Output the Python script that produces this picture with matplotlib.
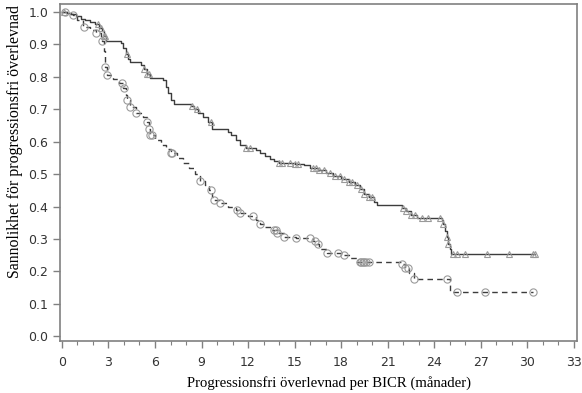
import numpy as np
import matplotlib
matplotlib.use("Agg")
import matplotlib.pyplot as plt

# Arm A (solid line, triangles)
time_a = [0, 0.3, 0.6, 0.9, 1.2, 1.5, 1.8, 2.1, 2.4, 2.55, 2.7, 2.85, 3.8, 3.95,
          4.1, 4.25, 4.4, 5.1, 5.3, 5.5, 5.7, 6.5, 6.7, 6.85, 7.0, 7.2, 8.3, 8.5,
          8.8, 9.1, 9.4, 9.7, 10.7, 10.9, 11.2, 11.5, 11.9, 12.5, 12.8, 13.1,
          13.4, 13.7, 14.0, 15.0, 15.6, 16.0, 16.5, 17.0, 17.5, 18.0, 18.5, 18.9,
          19.2, 19.5, 19.8, 20.1, 20.3, 21.9, 22.2, 22.5, 22.9, 24.5, 24.6, 24.7,
          24.8, 24.9, 25.0, 25.1]
surv_a = [1.0, 0.997, 0.993, 0.987, 0.98, 0.975, 0.97, 0.962, 0.95, 0.94, 0.925,
          0.912, 0.905, 0.89, 0.87, 0.855, 0.845, 0.838, 0.825, 0.81, 0.797, 0.79,
          0.77, 0.75, 0.73, 0.715, 0.71, 0.70, 0.69, 0.675, 0.66, 0.64, 0.63, 0.62,
          0.605, 0.59, 0.58, 0.575, 0.565, 0.555, 0.547, 0.54, 0.534, 0.532, 0.527,
          0.52, 0.512, 0.503, 0.493, 0.484, 0.475, 0.466, 0.455, 0.44, 0.43, 0.415,
          0.404, 0.395, 0.385, 0.375, 0.366, 0.36, 0.345, 0.325, 0.305, 0.285,
          0.268, 0.255]
cens_a = [0.1, 2.3, 2.5, 2.7, 2.8, 4.2, 5.3, 5.5, 5.6, 8.4, 8.7, 9.6, 11.9, 12.1,
          14.0, 14.2, 14.7, 15.0, 15.2, 16.2, 16.4, 16.6, 16.9, 17.3, 17.6, 17.9,
          18.2, 18.5, 18.7, 19.0, 19.3, 19.5, 19.8, 20.0, 22.0, 22.2, 22.5, 22.8,
          23.2, 23.6, 24.4, 24.6, 24.8, 24.9, 25.2, 25.5, 26.0, 27.4, 28.8, 30.4, 30.5]

# Arm B (dashed line, circles)
time_b = [0, 0.4, 0.7, 1.0, 1.35, 1.8, 2.2, 2.5, 2.6, 2.7, 2.75, 2.8, 2.9, 3.3,
          3.7, 3.95, 4.1, 4.2, 4.4, 4.8, 5.2, 5.5, 5.6, 5.7, 6.0, 6.4, 6.7, 7.0,
          7.4, 7.8, 8.2, 8.6, 8.9, 9.2, 9.5, 9.7, 9.8, 10.2, 10.7, 11.2, 11.5,
          12.0, 12.5, 12.8, 13.0, 13.5, 13.9, 14.3, 15.1, 16.2, 16.4, 16.6, 17.1,
          18.1, 18.6, 19.0, 21.9, 22.1, 22.4, 22.7, 25.0]
surv_b = [1.0, 0.995, 0.99, 0.975, 0.955, 0.945, 0.935, 0.92, 0.91, 0.88, 0.85,
          0.83, 0.805, 0.795, 0.78, 0.765, 0.745, 0.728, 0.707, 0.69, 0.675, 0.66,
          0.64, 0.62, 0.605, 0.59, 0.578, 0.565, 0.55, 0.535, 0.52, 0.50, 0.48,
          0.465, 0.45, 0.43, 0.42, 0.41, 0.40, 0.39, 0.38, 0.372, 0.36, 0.345,
          0.337, 0.328, 0.32, 0.306, 0.302, 0.295, 0.285, 0.27, 0.256, 0.25, 0.24,
          0.228, 0.222, 0.21, 0.195, 0.178, 0.136]
cens_b = [0.2, 0.7, 1.4, 2.2, 2.6, 2.8, 2.9, 3.9, 4.0, 4.2, 4.4, 4.8, 5.5, 5.6,
          5.7, 5.8, 7.0, 7.1, 8.9, 9.6, 9.8, 10.2, 11.3, 11.5, 12.3, 12.8, 13.7,
          13.8, 13.9, 14.3, 15.1, 16.0, 16.3, 16.5, 17.1, 17.8, 18.2, 19.2, 19.3,
          19.4, 19.5, 19.6, 19.8, 21.9, 22.1, 22.3, 22.7, 24.8, 25.5, 27.3, 30.4]

x_ticks = list(range(0, 34, 3))
y_ticks = [0.0, 0.1, 0.2, 0.3, 0.4, 0.5, 0.6, 0.7, 0.8, 0.9, 1.0]
x_label = "Progressionsfri överlevnad per BICR (månader)"
y_label = "Sannolikhet för progressionsfri överlevnad"


def step_value(times, surv, t):
    idx = np.searchsorted(np.asarray(times), np.asarray(t), side="right") - 1
    return np.asarray(surv)[idx]


fig = plt.figure(figsize=(5.82, 3.93), dpi=100)
ax = fig.add_axes([0.103, 0.132, 0.888, 0.858])

line_col = "#3c3c3c"
mark_col = "#9a9a9a"

ta = time_a + [cens_a[-1]]
sa = surv_a + [surv_a[-1]]
tb = time_b + [cens_b[-1]]
sb = surv_b + [surv_b[-1]]

ax.step(ta, sa, where="post", color=line_col, lw=1.0, zorder=3)
ax.step(tb, sb, where="post", color=line_col, lw=1.0, ls=(0, (4, 3)), zorder=3)

ax.plot(cens_a, step_value(time_a, surv_a, cens_a), ls="none", marker="^",
        ms=4.5, mfc="none", mec=mark_col, mew=0.8, zorder=4)
ax.plot(cens_b, step_value(time_b, surv_b, cens_b), ls="none", marker="o",
        ms=5.2, mfc="none", mec=mark_col, mew=0.8, zorder=4)

ax.set_xlim(-0.13, 33.2)
ax.set_ylim(-0.015, 1.025)
ax.set_xticks(x_ticks)
ax.set_xticks(np.arange(0, 34, 1), minor=True)
ax.set_yticks(y_ticks)
ax.set_yticklabels([f"{v:.1f}" for v in y_ticks])

for s in ax.spines.values():
    s.set_color("#808080")
    s.set_linewidth(1.2)

ax.tick_params(axis="both", which="major", colors="#808080", labelcolor="#333333",
               labelsize=9, length=5, width=1)
ax.tick_params(axis="x", which="minor", colors="#808080", length=3, width=0.8)
ax.tick_params(axis="x", pad=6)

for lab in ax.get_xticklabels() + ax.get_yticklabels():
    lab.set_family("DejaVu Sans")

ax.set_xlabel(x_label, family="Liberation Serif", fontsize=10.6, color="black")
ax.set_ylabel(y_label, family="Liberation Serif", fontsize=11.4, color="black")
ax.xaxis.set_label_coords(0.52, -0.105)
ax.yaxis.set_label_coords(-0.072, 0.593)

fig.savefig("out.png", dpi=100)
